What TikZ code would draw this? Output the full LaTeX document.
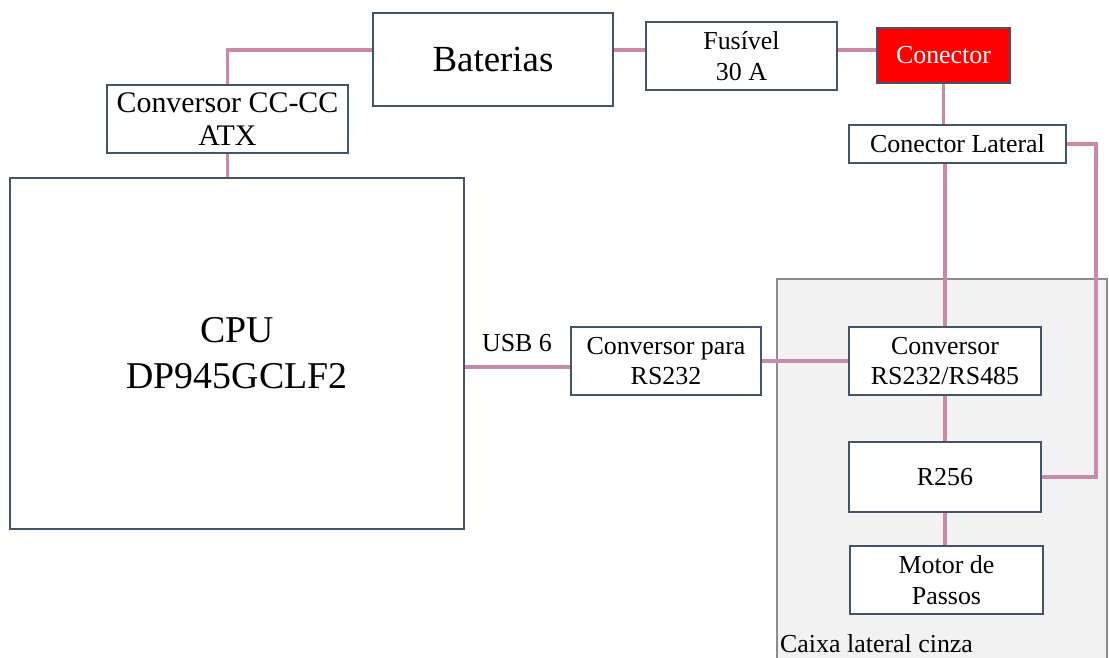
\documentclass[tikz,border=0pt]{standalone}
\usepackage{fontspec}
\setmainfont{Liberation Serif}

\begin{document}
\begin{tikzpicture}[x=1bp,y=1bp,every node/.style={font=\fontsize{26}{31}\selectfont,align=center,inner sep=0},
  blk/.style={draw=slate,line width=2bp,fill=white},
  wire/.style={draw=wirepink,line width=3.2bp}]
\path[use as bounding box] (0,0) rectangle (1109,658);
\definecolor{slate}{HTML}{44546A}
\definecolor{wirepink}{HTML}{C98AAA}
\definecolor{boxgray}{HTML}{F2F2F2}
\definecolor{conred}{HTML}{FF0000}
\draw[draw=black!45,fill=boxgray,line width=1.8bp] (777,-10) rectangle (1107,379);
\node[blk,minimum width=240bp,minimum height=93bp,font=\fontsize{37}{44}\selectfont] (bat) at (493,598.5) {Baterias};
\node[blk,minimum width=241bp,minimum height=68bp,font=\fontsize{30}{33}\selectfont] (cc) at (227.5,539) {Conversor CC-CC\\ATX};
\node[blk,minimum width=454bp,minimum height=351bp,font=\fontsize{38}{46}\selectfont] (cpu) at (237,304.5) {CPU\\DP945GCLF2};
\node[blk,minimum width=191bp,minimum height=68bp] (fus) at (741.5,602) {Fusível\\30 A};
\node[blk,fill=conred,text=white,minimum width=133bp,minimum height=55bp] (con) at (943.5,602.5) {Conector};
\node[blk,minimum width=217bp,minimum height=38bp] (lat) at (957.5,514) {Conector Lateral};
\node[blk,minimum width=190bp,minimum height=68bp] (ser) at (666,297) {Conversor para\\RS232};
\node[blk,minimum width=192bp,minimum height=68bp] (rs) at (945,297) {Conversor\\RS232/RS485};
\node[blk,minimum width=192bp,minimum height=70bp] (drv) at (945,181) {R256};
\node[blk,minimum width=193bp,minimum height=68bp] (mot) at (946.5,78) {Motor de\\Passos};
\node (usb) at (517,315) {USB 6};
\node[anchor=base west] (cx) at (780,5) {Caixa lateral cinza};
\coordinate (bus) at (0,608);
\draw[wire] (bat.west |- bus) -| (cc.north);
\draw[wire] (bat.east |- bus) -- (fus.west |- bus);
\draw[wire] (fus.east |- bus) -- (con.west |- bus);
\draw[wire] (cc.south) -- (cc.south |- cpu.north);
\draw[wire] (con.south) -- (con.south |- lat.north);
\draw[wire] (lat.south -| rs.north) -- (rs.north);
\draw[wire] (lat.east) -- ++(29,0) |- (drv.east);
\draw[wire] ([yshift=-6]ser.west) -- ([yshift=-6]ser.west -| cpu.east);
\draw[wire] (ser.east) -- (rs.west);
\draw[wire] (rs.south) -- (drv.north);
\draw[wire] (drv.south) -- (drv.south |- mot.north);
\end{tikzpicture}
\end{document}
